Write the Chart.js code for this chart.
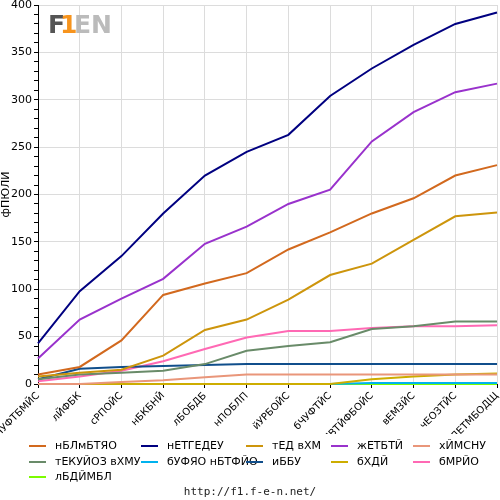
<!DOCTYPE html>
<html>
<head>
<meta charset="utf-8">
<script src="https://cdn.jsdelivr.net/npm/chart.js@4"></script>
<style>
  body { margin: 0; background: #fff; }
  #wrap { width: 500px; height: 500px; }
</style>
</head>
<body>
<div id="wrap"><canvas id="pointsChart" width="500" height="500"></canvas></div>
<script>
// races (x axis)
const races = ["бЧУФТБМЙС", "лЙФБК", "сРПОЙС", "нБКБНЙ", "лБОБДБ", "нПОБЛП",
    "йУРБОЙС", "бЧУФТЙС", "чЕМЙЛПВТЙФБОЙС", "вЕМЗЙС", "чЕОЗТЙС", "оЙДЕТМБОДЩ"];

// cumulative points per team
const mclaren     = [10, 18, 46, 94, 106, 117, 142, 160, 180, 196, 220, 231];
const mercedes    = [43, 98, 135, 180, 220, 245, 263, 304, 333, 358, 380, 392];
const redbull     = [8, 12, 15, 30, 57, 68, 89, 115, 127, 152, 177, 181];
const ferrari     = [27, 68, 90, 111, 148, 166, 190, 205, 256, 287, 308, 317];
const williams    = [0, 0, 2, 4, 7, 10, 10, 10, 10, 10, 10, 10];
const racingbulls = [5, 10, 12, 14, 21, 35, 40, 44, 58, 61, 66, 66];
const aston       = [0, 0, 0, 0, 0, 0, 0, 0, 1, 1, 1, 1];
const haas        = [5, 16, 18, 19, 20, 21, 21, 21, 21, 21, 21, 21];
const audi        = [0, 0, 0, 0, 0, 0, 0, 0, 5, 8, 10, 11];
const alpine      = [3, 8, 14, 24, 37, 49, 56, 56, 59, 61, 61, 62];
const cadillac    = [0, 0, 0, 0, 0, 0, 0, 0, 0, 0, 0, 0];

const teamNames = ["нБЛмБТЯО", "нЕТГЕДЕУ", "тЕД вХМ", "жЕТБТЙ", "хЙМСНУ",
    "тЕКУЙОЗ вХМУ", "бУФЯО нБТФЙО", "иББУ", "бХДЙ", "бМРЙО", "лБДЙМБЛ"];
const teamPoints = [mclaren, mercedes, redbull, ferrari, williams,
    racingbulls, aston, haas, audi, alpine, cadillac];
const teamColors = ['#D2691E', '#000080', '#CD950C', '#9932CC', '#E9967A',
    '#698B69', '#00B2EE', '#104E8B', '#CDAD00', '#FF69B4', '#7CFC00'];
// drawing layer (higher = further back)
const teamLayer = [0, 0, 0, 0, 0, 0, 1, 0, 0, 0, 2];

const yTitle = "фПЮЛЙ";
const siteUrl = "http://f1.f-e-n.net/";

const FONT = "'DejaVu Sans', sans-serif";

// legend in a fixed 5 column grid under the chart
const legendGrid = {
    id: 'legendGrid',
    afterDraw(chart) {
        const ctx = chart.ctx;
        const colX = [29, 141, 246, 331, 413];
        const rowY = [446, 462, 477];
        ctx.save();
        ctx.font = "11px " + FONT;
        ctx.textBaseline = 'middle';
        ctx.textAlign = 'left';
        chart.data.datasets.forEach((ds, i) => {
            const x = colX[i % 5];
            const y = rowY[Math.floor(i / 5)];
            ctx.strokeStyle = ds.borderColor;
            ctx.lineWidth = 2;
            ctx.beginPath();
            ctx.moveTo(x, y);
            ctx.lineTo(x + 17, y);
            ctx.stroke();
            ctx.fillStyle = '#000';
            ctx.fillText(ds.label, x + 26, y);
        });

        // site address
        ctx.font = "11px 'DejaVu Sans Mono', monospace";
        ctx.fillStyle = '#222';
        ctx.textAlign = 'center';
        ctx.fillText(siteUrl, 250, 492);

        // logo
        ctx.font = "bold 25px " + FONT;
        ctx.textAlign = 'left';
        ctx.textBaseline = 'alphabetic';
        ctx.fillStyle = '#555';
        ctx.fillText("F", 48, 33);
        ctx.fillStyle = '#F7941D';
        ctx.fillText("1", 60, 33);
        ctx.fillStyle = '#bbb';
        ctx.fillText("EN", 74, 33);
        ctx.restore();
    }
};

let pointsChart = new Chart(document.getElementById("pointsChart"), {
    type: 'line',
    data: {
        labels: races,
        datasets: teamNames.map((name, i) => ({
            label: name,
            data: teamPoints[i],
            borderColor: teamColors[i],
            backgroundColor: teamColors[i],
            borderWidth: 2,
            pointRadius: 0,
            tension: 0,
            fill: false,
            clip: false,
            order: teamLayer[i]
        }))
    },
    options: {
        responsive: false,
        animation: false,
        layout: { padding: { top: 5, right: 3, left: 0, bottom: 66 } },
        plugins: {
            legend: { display: false },
            tooltip: { enabled: false }
        },
        scales: {
            x: {
                offset: false,
                grid: { color: '#dcdcdc', tickColor: '#000', tickLength: 4 },
                border: { color: '#000' },
                ticks: {
                    color: '#000',
                    font: { family: FONT, size: 10 },
                    maxRotation: 45,
                    minRotation: 45,
                    autoSkip: false,
                    padding: 2
                },
                afterFit(s) {
                    s.height = 50;
                    s.paddingLeft = 0;
                    s.paddingRight = 0;
                }
            },
            y: {
                min: 0,
                max: 400,
                grid: {
                    color: c => (c.tick && c.tick.value % 50 === 0) ? '#dcdcdc' : 'rgba(0,0,0,0)',
                    tickColor: '#000',
                    tickLength: 4
                },
                border: { color: '#000' },
                ticks: {
                    stepSize: 10,
                    autoSkip: false,
                    color: '#000',
                    font: { family: FONT, size: 11 },
                    padding: 2,
                    callback: v => v % 50 === 0 ? v : ''
                },
                title: {
                    display: true,
                    text: yTitle,
                    color: '#000',
                    font: { family: FONT, size: 11 },
                    padding: 0
                },
                afterFit(s) {
                    s.width = 38;
                    s.paddingTop = 0;
                    s.paddingBottom = 0;
                }
            }
        }
    },
    plugins: [legendGrid]
});
</script>
</body>
</html>
